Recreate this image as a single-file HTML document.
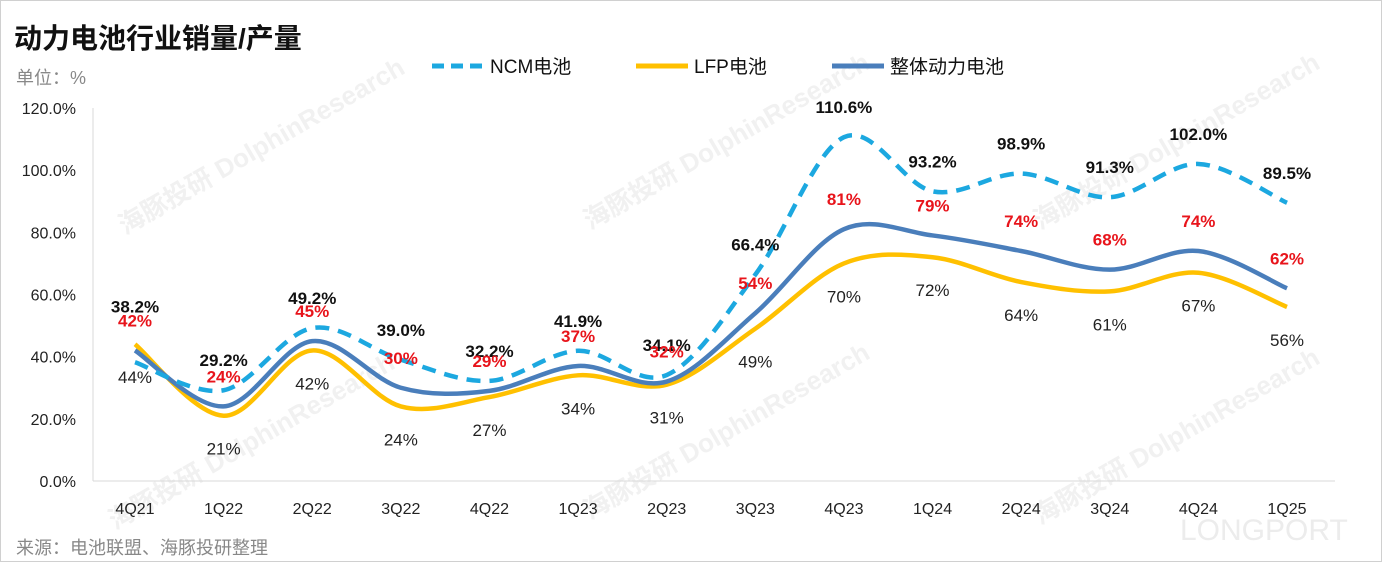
<!DOCTYPE html>
<html><head><meta charset="utf-8"><style>
body{margin:0;background:#fff}
svg{display:block;font-family:"Liberation Sans","Noto Sans CJK SC",sans-serif}
</style></head><body>
<svg id="chart" width="1382" height="562">
<rect x="0.5" y="0.5" width="1381" height="561" fill="#fff" stroke="#d0d0d0"/>
<g id="wm" fill="#f1f1f1" font-size="26" font-weight="bold">
<text transform="translate(125,235) rotate(-30)">海豚投研 DolphinResearch</text>
<text transform="translate(590,230) rotate(-30)">海豚投研 DolphinResearch</text>
<text transform="translate(1040,230) rotate(-30)">海豚投研 DolphinResearch</text>
<text transform="translate(115,530) rotate(-30)">海豚投研 DolphinResearch</text>
<text transform="translate(590,520) rotate(-30)">海豚投研 DolphinResearch</text>
<text transform="translate(1040,525) rotate(-30)">海豚投研 DolphinResearch</text>
</g>
<text x="1180" y="540" font-size="30" fill="#ececec">LONGPORT</text>
<text x="14" y="48" font-size="28" font-weight="bold" fill="#111">动力电池行业销量/产量</text>
<text x="16" y="84" font-size="18" fill="#888">单位：%</text>
<text x="16" y="554" font-size="18" fill="#888">来源：电池联盟、海豚投研整理</text>
<g>
<g><line x1="432" y1="66" x2="482" y2="66" stroke="#1CA8E0" stroke-width="5" stroke-dasharray="12,7"/><text x="490" y="73" font-size="19" fill="#111">NCM电池</text></g>
<g><line x1="636" y1="66" x2="688" y2="66" stroke="#FFC000" stroke-width="5"/><text x="694" y="73" font-size="19" fill="#111">LFP电池</text></g>
<g><line x1="832" y1="66" x2="884" y2="66" stroke="#4A7EBB" stroke-width="5"/><text x="890" y="73" font-size="19" fill="#111">整体动力电池</text></g>
</g>
<g id="axes"></g>
<g id="series"></g>
<g id="labels"></g>
</svg>
<script>
const categories=["4Q21","1Q22","2Q22","3Q22","4Q22","1Q23","2Q23","3Q23","4Q23","1Q24","2Q24","3Q24","4Q24","1Q25"];
const ncmValues=[38.2,29.2,49.2,39.0,32.2,41.9,34.1,66.4,110.6,93.2,98.9,91.3,102.0,89.5];
const lfpValues=[44,21,42,24,27,34,31,49,70,72,64,61,67,56];
const totalValues=[42,24,45,30,29,37,32,54,81,79,74,68,74,62];
const yTicks=[0,20,40,60,80,100,120];
const NS="http://www.w3.org/2000/svg";
const x0=135,dx=(1287-135)/13,yBase=481,yScale=(481-108)/120;
const X=i=>x0+i*dx, Y=v=>yBase-v*yScale;
function mk(tag,attrs,parent,text){const e=document.createElementNS(NS,tag);for(const k in attrs)e.setAttribute(k,attrs[k]);if(text!==undefined)e.textContent=text;parent.appendChild(e);return e;}
const axes=document.getElementById('axes');
const yl=mk('line',{x1:93,y1:108,x2:93,y2:481,stroke:'#d9d9d9'},axes);


const xl=mk('line',{x1:93,y1:481,x2:1335,y2:481,stroke:'#d9d9d9'},axes);


yTicks.forEach(t=>{const e=mk('text',{x:76,y:Y(t)+6,'font-size':16,'text-anchor':'end',fill:'#222'},axes,t.toFixed(1)+'%');

});
categories.forEach((c,i)=>{const e=mk('text',{x:X(i),y:514,'font-size':16,'text-anchor':'middle',fill:'#222'},axes,c);

});
function smooth(vals){const p=vals.map((v,i)=>[X(i),Y(v)]);let d='M'+p[0][0]+','+p[0][1];
for(let i=0;i<p.length-1;i++){const a=p[i-1]||p[i],b=p[i],c=p[i+1],e=p[i+2]||c;
d+=' C'+(b[0]+(c[0]-a[0])/6)+','+(b[1]+(c[1]-a[1])/6)+' '+(c[0]-(e[0]-b[0])/6)+','+(c[1]-(e[1]-b[1])/6)+' '+c[0]+','+c[1];}return d;}
const sg=document.getElementById('series');
const s1=mk('path',{d:smooth(lfpValues),fill:'none',stroke:'#FFC000','stroke-width':4.5},sg);


const s2=mk('path',{d:smooth(totalValues),fill:'none',stroke:'#4A7EBB','stroke-width':4.5},sg);


const s3=mk('path',{d:smooth(ncmValues),fill:'none',stroke:'#1CA8E0','stroke-width':4.5,'stroke-dasharray':'14,9'},sg);


const lg=document.getElementById('labels');
ncmValues.forEach((v,i)=>{const off=i===0?-50:-24;const e=mk('text',{x:X(i),y:Y(v)+off,'font-size':17,'font-weight':'bold','text-anchor':'middle',fill:'#111'},lg,v.toFixed(1)+'%');

});
totalValues.forEach((v,i)=>{const e=mk('text',{x:X(i),y:Y(v)-24,'font-size':17,'font-weight':'bold','text-anchor':'middle',fill:'#E8141B'},lg,v+'%');

});
lfpValues.forEach((v,i)=>{const e=mk('text',{x:X(i),y:Y(v)+39,'font-size':17,'text-anchor':'middle',fill:'#222'},lg,v+'%');

});
</script>
</body></html>
